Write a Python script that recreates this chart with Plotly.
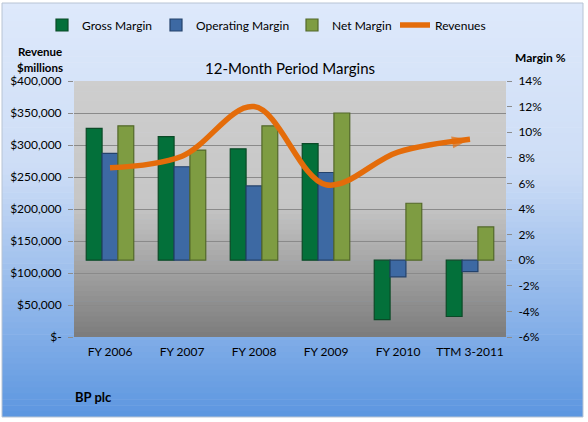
import plotly.graph_objects as go

categories = ["FY 2006", "FY 2007", "FY 2008", "FY 2009", "FY 2010", "TTM 3-2011"]
gross_margin = [10.3, 9.65, 8.7, 9.1, -4.65, -4.4]
operating_margin = [8.35, 7.3, 5.8, 6.85, -1.3, -0.9]
net_margin = [10.5, 8.6, 10.5, 11.5, 4.45, 2.6]
revenues = [264500, 282500, 360000, 238000, 289000, 309000]

rev_ticks = [0, 50000, 100000, 150000, 200000, 250000, 300000, 350000, 400000]
rev_ticktext = ["$-", "$50,000", "$100,000", "$150,000", "$200,000", "$250,000",
                "$300,000", "$350,000", "$400,000"]
margin_ticks = [-6, -4, -2, 0, 2, 4, 6, 8, 10, 12, 14]
margin_ticktext = ["-6%", "-4%", "-2%", "0%", "2%", "4%", "6%", "8%", "10%", "12%", "14%"]

FONT = "Lato, Carlito, Calibri, Arial, sans-serif"
W, H = 588, 422
ML, MR, MT, MB = 74, 82, 81, 85
PW, PH = W - ML - MR, H - MT - MB


def px(x):
    return (x - ML) / PW


def py(y):
    return (H - MB - y) / PH


def lerp(c1, c2, t):
    return "rgb(%d,%d,%d)" % tuple(round(a + (b - a) * t) for a, b in zip(c1, c2))


shapes = []
# outer frame gradient
top_c, mid_c, bot_c = (222, 233, 251), (205, 221, 246), (92, 150, 224)
y0, y1 = 3, 417
n = 70
for i in range(n):
    ya = y0 + (y1 - y0) * i / n
    yb = y0 + (y1 - y0) * (i + 1) / n + 0.6
    ym = (ya + yb) / 2
    if ym < 170:
        c = lerp(top_c, mid_c, (ym - y0) / (170 - y0))
    else:
        c = lerp(mid_c, bot_c, (ym - 170) / (y1 - 170))
    shapes.append(dict(type="rect", xref="paper", yref="paper", layer="below",
                       x0=px(2), x1=px(583), y0=py(min(yb, y1)), y1=py(ya),
                       fillcolor=c, line=dict(width=0)))
shapes.append(dict(type="rect", xref="paper", yref="paper", layer="below",
                   x0=px(2), x1=px(583), y0=py(417), y1=py(3),
                   fillcolor="rgba(0,0,0,0)", line=dict(color="#b8c4d4", width=1)))
# plot area gradient
p_top, p_mid, p_bot = (206, 206, 206), (198, 198, 198), (124, 124, 124)
n = 50
for i in range(n):
    ya = 81 + 256 * i / n
    yb = 81 + 256 * (i + 1) / n + 0.6
    ym = (ya + yb) / 2
    if ym < 205:
        c = lerp(p_top, p_mid, (ym - 81) / (205 - 81))
    else:
        c = lerp(p_mid, p_bot, (ym - 205) / (337 - 205))
    shapes.append(dict(type="rect", xref="paper", yref="paper", layer="below",
                       x0=0, x1=1, y0=py(min(yb, 337)), y1=py(ya),
                       fillcolor=c, line=dict(width=0)))

fig = go.Figure()
bar_specs = [
    ("Gross Margin", gross_margin, "#03703a", "#0b4a27", "legend"),
    ("Operating Margin", operating_margin, "#3d69a3", "#24426b", "legend2"),
    ("Net Margin", net_margin, "#7e9c42", "#53682a", "legend3"),
]
for name, vals, fill, edge, lg in bar_specs:
    fig.add_trace(go.Bar(x=categories, y=vals, name=name, yaxis="y", legend=lg,
                         marker=dict(color=fill, line=dict(color=edge, width=1.2))))

sizes = [0] * (len(revenues) - 1) + [19]
symbols = ["circle"] * (len(revenues) - 1) + ["arrow"]
fig.add_trace(go.Scatter(x=categories, y=revenues, name="Revenues", yaxis="y2",
                         mode="lines+markers", legend="legend4",
                         line=dict(color="#e46c0a", width=5.5, shape="spline", smoothing=1.0),
                         marker=dict(color="#e46c0a", size=sizes, symbol=symbols,
                                     angleref="previous", line=dict(width=0))))


def legend_at(text_x):
    return dict(orientation="h", xref="container", yref="container",
                x=(text_x - 38) / W, xanchor="left", y=1 - 25 / H, yanchor="middle",
                bgcolor="rgba(0,0,0,0)", font=dict(size=12, family=FONT),
                itemwidth=30)


fig.update_layout(
    width=W, height=H,
    margin=dict(l=ML, r=MR, t=MT, b=MB, pad=0, autoexpand=False),
    paper_bgcolor="white", plot_bgcolor="rgba(0,0,0,0)",
    font=dict(family=FONT, size=12, color="#000"),
    barmode="group", bargap=0.34, bargroupgap=0,
    shapes=shapes,
    showlegend=True,
    legend=legend_at(80),
    legend2=legend_at(194),
    legend3=legend_at(330),
    legend4=legend_at(433),
    xaxis=dict(showgrid=False, showline=False, zeroline=False, ticks="",
               tickfont=dict(size=12), ticklabelstandoff=6),
    yaxis=dict(side="right", range=[-6, 14], tickvals=margin_ticks, ticktext=margin_ticktext,
               showgrid=False, zeroline=False, showline=False, ticks="outside",
               ticklen=5, tickcolor="#8c8c8c", tickfont=dict(size=12),
               ticklabelstandoff=4),
    yaxis2=dict(side="left", overlaying="y", range=[0, 400000], tickvals=rev_ticks,
                ticktext=rev_ticktext, showgrid=True, gridcolor="#8a8a8a", gridwidth=1,
                zeroline=False, showline=False, ticks="outside", ticklen=5,
                tickcolor="#8c8c8c", tickfont=dict(size=12), ticklabelstandoff=4),
    annotations=[
        dict(text="12-Month Period Margins", xref="paper", yref="paper", x=px(290), y=py(68),
             showarrow=False, font=dict(size=15), xanchor="center", yanchor="middle"),
        dict(text="<b>Revenue</b>", xref="paper", yref="paper", x=px(40), y=py(51),
             showarrow=False, font=dict(size=11.5), xanchor="center", yanchor="middle"),
        dict(text="<b>$millions</b>", xref="paper", yref="paper", x=px(40), y=py(67.5),
             showarrow=False, font=dict(size=11.5), xanchor="center", yanchor="middle"),
        dict(text="<b>Margin %</b>", xref="paper", yref="paper", x=px(540), y=py(57),
             showarrow=False, font=dict(size=12), xanchor="center", yanchor="middle"),
        dict(text="<b>BP plc</b>", xref="paper", yref="paper", x=px(73), y=py(397),
             showarrow=False, font=dict(size=13), xanchor="left", yanchor="middle"),
    ],
)

fig.write_html("out.html")
